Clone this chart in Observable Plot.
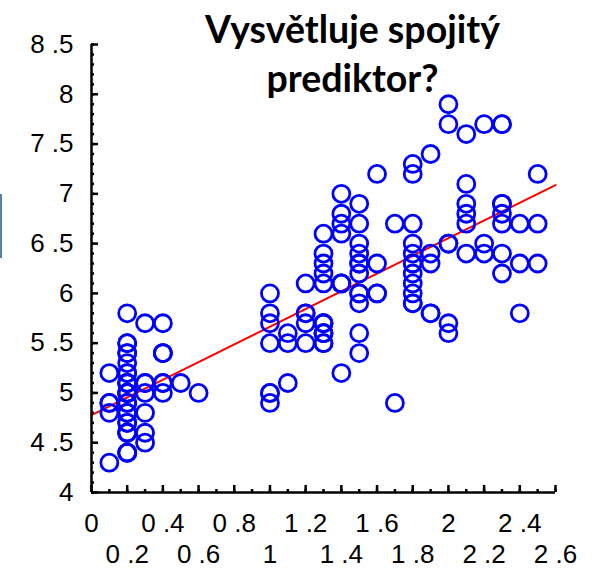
<!DOCTYPE html>
<html>
<head>
<meta charset="utf-8">
<script src="https://cdn.jsdelivr.net/npm/d3@7"></script>
<script src="https://cdn.jsdelivr.net/npm/@observablehq/plot@0.6"></script>
<style>
  html, body { margin: 0; padding: 0; background: #fff; }
  #wrap { position: relative; width: 593px; height: 570px; overflow: hidden; background: #fff; }
  #chart svg text { font-family: "Liberation Sans", Arial, sans-serif; }
  #title {
    position: absolute; left: 135px; top: 4px; width: 435px;
    text-align: center; font-family: Lato, "Open Sans", sans-serif; font-weight: bold;
    font-size: 37.5px; line-height: 49px; color: #000; pointer-events: none;
  }
  #edge { position: absolute; left: 0; top: 194px; width: 2px; height: 64px; background: #5b7faa; }
</style>
</head>
<body>
<div id="wrap">
  <div id="chart"></div>
  <div id="title">Vysvětluje spojitý<br>prediktor?</div>
  <div id="edge"></div>
</div>
<script>
// Predictor (x) and response (y) values
const petalWidth = [
  0.2,0.2,0.2,0.2,0.2,0.4,0.3,0.2,0.2,0.1,0.2,0.2,0.1,0.1,0.2,0.4,0.4,0.3,0.3,0.3,0.2,0.4,0.2,0.5,0.2,0.2,0.4,0.2,0.2,0.2,0.2,0.4,0.1,0.2,0.2,0.2,0.2,0.1,0.2,0.2,0.3,0.3,0.2,0.6,0.4,0.3,0.2,0.2,0.2,0.2,
  1.4,1.5,1.5,1.3,1.5,1.3,1.6,1.0,1.3,1.4,1.0,1.5,1.0,1.4,1.3,1.4,1.5,1.0,1.5,1.1,1.8,1.3,1.5,1.2,1.3,1.4,1.4,1.7,1.5,1.0,1.1,1.0,1.2,1.6,1.5,1.6,1.5,1.3,1.3,1.3,1.2,1.4,1.2,1.0,1.3,1.2,1.3,1.3,1.1,1.3,
  2.5,1.9,2.1,1.8,2.2,2.1,1.7,1.8,1.8,2.5,2.0,1.9,2.1,2.0,2.4,2.3,1.8,2.2,2.3,1.5,2.3,2.0,2.0,1.8,2.1,1.8,1.8,1.8,2.1,1.6,1.9,2.0,2.2,1.5,1.4,2.3,2.4,1.8,1.8,2.1,2.4,2.3,1.9,2.3,2.5,2.3,1.9,2.0,2.3,1.8
];
const sepalLength = [
  5.1,4.9,4.7,4.6,5.0,5.4,4.6,5.0,4.4,4.9,5.4,4.8,4.8,4.3,5.8,5.7,5.4,5.1,5.7,5.1,5.4,5.1,4.6,5.1,4.8,5.0,5.0,5.2,5.2,4.7,4.8,5.4,5.2,5.5,4.9,5.0,5.5,4.9,4.4,5.1,5.0,4.5,4.4,5.0,5.1,4.8,5.1,4.6,5.3,5.0,
  7.0,6.4,6.9,5.5,6.5,5.7,6.3,4.9,6.6,5.2,5.0,5.9,6.0,6.1,5.6,6.7,5.6,5.8,6.2,5.6,5.9,6.1,6.3,6.1,6.4,6.6,6.8,6.7,6.0,5.7,5.5,5.5,5.8,6.0,5.4,6.0,6.7,6.3,5.6,5.5,5.5,6.1,5.8,5.0,5.6,5.7,5.7,6.2,5.1,5.7,
  6.3,5.8,7.1,6.3,6.5,7.6,4.9,7.3,6.7,7.2,6.5,6.4,6.8,5.7,5.8,6.4,6.5,7.7,7.7,6.0,6.9,5.6,7.7,6.3,6.7,7.2,6.2,6.1,6.4,7.2,7.4,7.9,6.4,6.3,6.1,7.7,6.3,6.4,6.0,6.9,6.7,6.9,5.8,6.8,6.7,6.7,6.3,6.5,6.2,5.9
];

// Axis ranges and tick labels
const xDomain = [0, 2.6];
const yDomain = [4, 8.5];
const xLabelsUpper = [0, 0.4, 0.8, 1.2, 1.6, 2, 2.4];
const xLabelsLower = [0.2, 0.6, 1, 1.4, 1.8, 2.2, 2.6];
const yLabels = [4, 4.5, 5, 5.5, 6, 6.5, 7, 7.5, 8, 8.5];
const xMinorTicks = d3.range(0, 27).map(i => i / 10);
const xMajorTicks = d3.range(0, 14).map(i => i / 5);
const yMinorTicks = d3.range(40, 86).map(i => i / 10);

const points = petalWidth.map((x, i) => ({x, y: sepalLength[i]}));

// least-squares fit
const mx = d3.mean(petalWidth), my = d3.mean(sepalLength);
const slope = d3.sum(points, d => (d.x - mx) * (d.y - my)) / d3.sum(points, d => (d.x - mx) ** 2);
const intercept = my - slope * mx;
const fitLine = xDomain.map(x => ({x, y: intercept + slope * x}));

const fmt = v => {
  const s = String(+v.toFixed(1));
  return s.replace(".", " .");
};

const chart = Plot.plot({
  width: 593,
  height: 570,
  marginLeft: 91,
  marginRight: 38,
  marginTop: 44,
  marginBottom: 78,
  x: {domain: xDomain},
  y: {domain: yDomain},
  style: {fontFamily: "'Liberation Sans', Arial, sans-serif", fontSize: "26px", color: "#000", background: "#fff"},
  marks: [
    Plot.line(fitLine, {x: "x", y: "y", stroke: "#ff0000", strokeWidth: 2}),
    Plot.dot(points, {x: "x", y: "y", r: 8.5, stroke: "#0000ff", strokeWidth: 2.8, fill: "none"}),
    Plot.axisX({ticks: xMinorTicks, tickSize: -3, fill: "none", strokeWidth: 2.5, label: null}),
    Plot.axisX({ticks: xMajorTicks, tickSize: -7, fill: "none", strokeWidth: 2.5, label: null}),
    Plot.axisX({ticks: xLabelsUpper, tickSize: 0, tickPadding: 21, tickFormat: fmt, label: null, fontSize: 26}),
    Plot.axisX({ticks: xLabelsLower, tickSize: 0, tickPadding: 52, tickFormat: fmt, label: null, fontSize: 26}),
    Plot.axisY({ticks: yMinorTicks, tickSize: -3, fill: "none", strokeWidth: 2.5, label: null}),
    Plot.axisY({ticks: yLabels, tickSize: -7, fill: "none", strokeWidth: 2.5, label: null}),
    Plot.axisY({ticks: yLabels, tickSize: 0, tickPadding: 18, tickFormat: fmt, label: null, fontSize: 26}),
    Plot.ruleX([xDomain[0]], {stroke: "#000", strokeWidth: 2.5}),
    Plot.ruleY([yDomain[0]], {stroke: "#000", strokeWidth: 2.5})
  ]
});
document.getElementById("chart").appendChild(chart);
</script>
</body>
</html>
